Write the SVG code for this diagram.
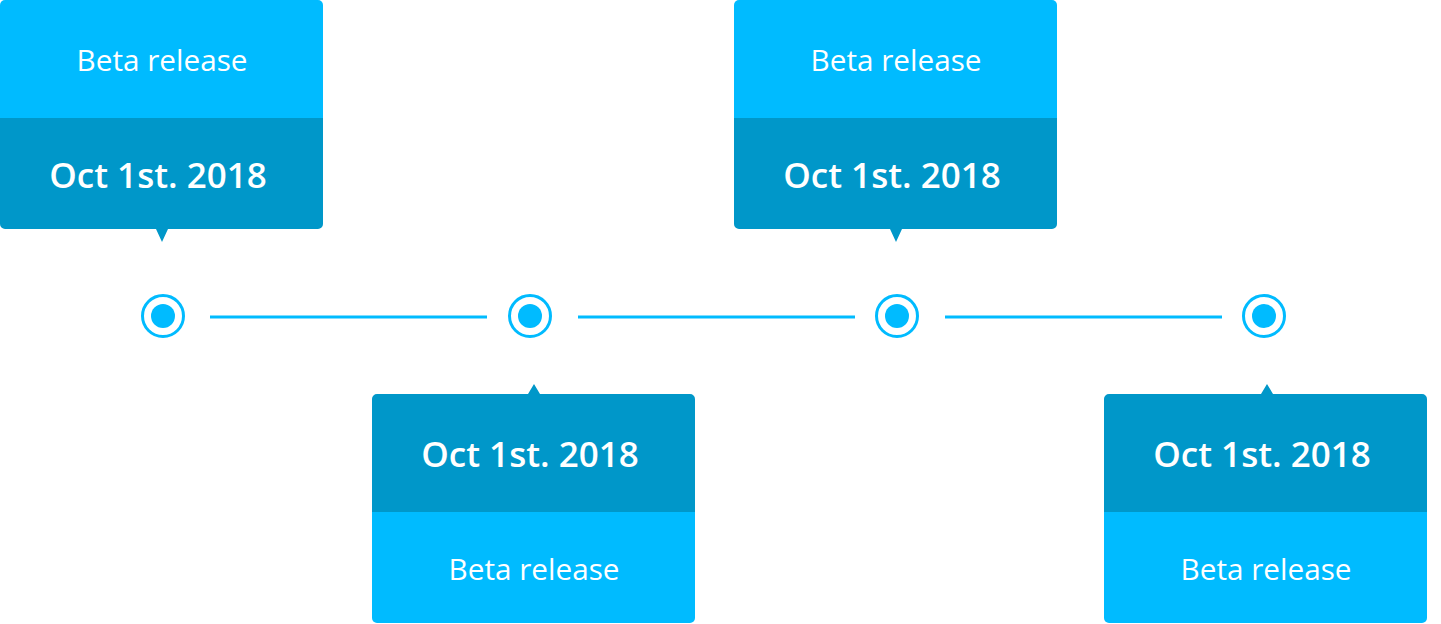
<svg xmlns="http://www.w3.org/2000/svg" width="1441" height="624" viewBox="0 0 1441 624">
<style>
.light{fill:#00BBFF}
.dark{fill:#0097C9}
.t1{font-family:"Open Sans","Liberation Sans",sans-serif;font-size:29.7px;fill:#fff;text-anchor:middle}
.t2{font-family:"Open Sans","Liberation Sans",sans-serif;font-size:35px;font-weight:600;fill:#fff;text-anchor:middle}
.ring{fill:none;stroke:#00BBFF;stroke-width:3}
.dot{fill:#00BBFF}
.ln{stroke:#00BBFF;stroke-width:3}
</style>
<rect width="1441" height="624" fill="#fff"/>
<g id="connectors">
<line class="ln" x1="210" y1="317" x2="487" y2="317"/>
<line class="ln" x1="578" y1="317" x2="855" y2="317"/>
<line class="ln" x1="945" y1="317" x2="1222" y2="317"/>
</g>
<g id="point1"><circle class="ring" cx="163" cy="316" r="20.5"/><circle class="dot" cx="163" cy="316" r="12"/></g>
<g id="point2"><circle class="ring" cx="530" cy="316" r="20.5"/><circle class="dot" cx="530" cy="316" r="12"/></g>
<g id="point3"><circle class="ring" cx="897" cy="316" r="20.5"/><circle class="dot" cx="897" cy="316" r="12"/></g>
<g id="point4"><circle class="ring" cx="1264" cy="316" r="20.5"/><circle class="dot" cx="1264" cy="316" r="12"/></g>
<g id="card1">
<path class="light" d="M0,118 V5 a5,5 0 0 1 5,-5 H318 a5,5 0 0 1 5,5 V118 Z"/>
<path class="dark" d="M0,118 H323 V224 a5,5 0 0 1 -5,5 H168 L162,242 L156,229 H5 a5,5 0 0 1 -5,-5 Z"/>
<text class="t1" x="162" y="71">Beta release</text>
<text class="t2" x="158" y="188">Oct 1st. 2018</text>
</g>
<g id="card2">
<path class="dark" d="M372,512 V399 a5,5 0 0 1 5,-5 H528 L534,384 L540,394 H690 a5,5 0 0 1 5,5 V512 Z"/>
<path class="light" d="M372,512 H695 V618 a5,5 0 0 1 -5,5 H377 a5,5 0 0 1 -5,-5 Z"/>
<text class="t2" x="530" y="467">Oct 1st. 2018</text>
<text class="t1" x="534" y="580">Beta release</text>
</g>
<g id="card3">
<path class="light" d="M734,118 V5 a5,5 0 0 1 5,-5 H1052 a5,5 0 0 1 5,5 V118 Z"/>
<path class="dark" d="M734,118 H1057 V224 a5,5 0 0 1 -5,5 H902 L896,242 L890,229 H739 a5,5 0 0 1 -5,-5 Z"/>
<text class="t1" x="896" y="71">Beta release</text>
<text class="t2" x="892" y="188">Oct 1st. 2018</text>
</g>
<g id="card4">
<path class="dark" d="M1104,512 V399 a5,5 0 0 1 5,-5 H1261 L1267,384 L1273,394 H1422 a5,5 0 0 1 5,5 V512 Z"/>
<path class="light" d="M1104,512 H1427 V618 a5,5 0 0 1 -5,5 H1109 a5,5 0 0 1 -5,-5 Z"/>
<text class="t2" x="1262" y="467">Oct 1st. 2018</text>
<text class="t1" x="1266" y="580">Beta release</text>
</g>
</svg>
